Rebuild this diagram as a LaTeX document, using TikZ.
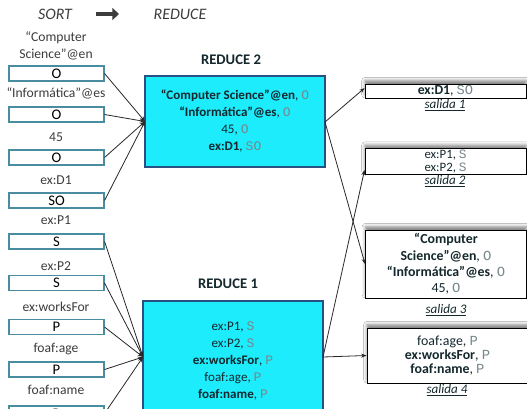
\documentclass[tikz,border=0pt]{standalone}
\usepackage{fontspec}
\setmainfont{Carlito}
\setmonofont{Liberation Mono}
\usetikzlibrary{arrows.meta,shadows.blur}
\definecolor{boxcyan}{RGB}{28,236,252}
\definecolor{cyanedge}{RGB}{40,80,130}
\definecolor{sortedge}{RGB}{74,140,160}
\definecolor{labelgray}{RGB}{60,60,60}
\definecolor{keygray}{RGB}{120,135,140}
\definecolor{wire}{RGB}{40,40,40}
\definecolor{txtdark}{RGB}{20,40,45}
\newcommand{\kw}[1]{\textcolor{keygray}{\texttt{#1}}}
\tikzset{
  sortbox/.style={draw=sortedge, line width=0.8pt, fill=white, minimum width=71.25pt,
    minimum height=11.25pt, inner sep=0pt, font=\fontsize{11}{12}\selectfont},
  sortlabel/.style={text=labelgray, inner sep=0pt, align=center,
    font=\fontsize{10.2}{12.8}\selectfont},
  reducebox/.style={draw=cyanedge, line width=0.8pt, fill=boxcyan, minimum width=135pt,
    inner sep=0pt, align=center, text=txtdark, font=\fontsize{9.8}{12.75}\selectfont},
  reducetitle/.style={inner sep=0pt, font=\bfseries\fontsize{11}{12}\selectfont, text=txtdark},
  outbox/.style={draw=black, line width=0.7pt, fill=white, minimum width=120.75pt,
    inner sep=0pt, align=center, text=txtdark,
    blur shadow={shadow xshift=0pt, shadow yshift=2.5pt, shadow blur radius=2.5pt, shadow opacity=50}},
  outlabel/.style={inner sep=0pt, text=txtdark, font=\fontsize{9.8}{11}\selectfont},
  link/.style={draw=wire, line width=0.6pt, -{Stealth[length=4pt,width=3pt]}},
  header/.style={inner sep=0pt, text=labelgray, font=\itshape\fontsize{12}{13}\selectfont}
}
\begin{document}
\begin{tikzpicture}[x=0.75pt, y=-0.75pt]
\clip (0,0) rectangle (527,408);
\fill[white] (0,0) rectangle (527,408);

% header
\node[header] (sort) at (55,14) {SORT};
\node[header] (red) at (180,14) {REDUCE};
\coordinate (ha) at (96,14);
\coordinate (hb) at (119,14);
\draw[labelgray, line width=3.6pt, -{Triangle[length=5pt,width=9pt]}] (ha) -- (hb);

% sorted keys with their values
\node[sortlabel] (l1) at (56,46) {“Computer\\Science”@en};
\node[sortbox] (b1) at (56.5,73.5) {O};
\node[sortlabel] (l2) at (56,93) {“Informática”@es};
\node[sortbox] (b2) at (56.5,114.5) {O};
\node[sortlabel] (l3) at (56,137) {45};
\node[sortbox] (b3) at (56.5,157.5) {O};
\node[sortlabel] (l4) at (56,180) {ex:D1};
\node[sortbox] (b4) at (56.5,200.5) {SO};
\node[sortlabel] (l5) at (56,220) {ex:P1};
\node[sortbox] (b5) at (56.5,241.5) {S};
\node[sortlabel] (l6) at (56,266) {ex:P2};
\node[sortbox] (b6) at (56.5,283) {S};
\node[sortlabel] (l7) at (56,307) {ex:worksFor};
\node[sortbox] (b7) at (56.5,327) {P};
\node[sortlabel] (l8) at (56,349) {foaf:age};
\node[sortbox] (b8) at (56.5,369.5) {P};
\node[sortlabel] (l9) at (56,390) {foaf:name};
\node[sortbox] (b9) at (56.5,413.5) {P};

% reducers
\node[reducetitle] (t2) at (231,60) {REDUCE 2};
\node[reducebox, minimum height=68.25pt] (r2) at (235,121.5)
  {\textbf{“Computer Science”@en}, \kw{O}\\
   \textbf{“Informática”@es}, \kw{O}\\
   45, \kw{O}\\
   \textbf{ex:D1}, \kw{SO}};
\node[reducetitle] (t1) at (228,284) {REDUCE 1};
\node[reducebox, minimum height=90pt] (r1) at (233,361)
  {ex:P1, \kw{S}\\
   ex:P2, \kw{S}\\
   \textbf{ex:worksFor}, \kw{P}\\
   foaf:age, \kw{P}\\
   \textbf{foaf:name}, \kw{P}};
\coordinate (in2) at (145,121.5);
\coordinate (in1) at (143,357);
\coordinate (out2) at (325,122);
\coordinate (out1) at (323,357);

% outputs
\node[outbox, minimum height=10.5pt, font=\fontsize{10.3}{12}\selectfont] (s1) at (445.5,91)
  {\textbf{ex:D1}, \kw{SO}};
\node[outlabel] (sl1) at (445,105) {\underline{\textit{salida 1}}};
\node[outbox, minimum height=19.5pt, font=\fontsize{9.6}{9.4}\selectfont] (s2) at (445.5,161.5)
  {ex:P1, \kw{S}\\ex:P2, \kw{S}};
\node[outlabel] (sl2) at (445,181) {\underline{\textit{salida 2}}};
\node[outbox, minimum height=51pt, font=\fontsize{10.4}{12.2}\selectfont] (s3) at (446,264)
  {\textbf{“Computer}\\\textbf{Science”@en}, \kw{O}\\
   \textbf{“Informática”@es}, \kw{O}\\45, \kw{O}};
\node[outlabel] (sl3) at (446,310) {\underline{\textit{salida 3}}};
\node[outbox, minimum height=41.25pt, font=\fontsize{10.4}{10.5}\selectfont] (s4) at (447.5,355.5)
  {foaf:age, \kw{P}\\\textbf{ex:worksFor}, \kw{P}\\\textbf{foaf:name}, \kw{P}};
\node[outlabel] (sl4) at (447,390) {\underline{\textit{salida 4}}};

% shuffle into the reducers
\foreach \b in {b1,b2,b3,b4} \draw[link] (\b.east) -- (in2);
\foreach \b in {b5,b6,b7,b8,b9} \draw[link] (\b.east) -- (in1);

% reducer outputs
\draw[link] (out2) -- ([yshift=2.2pt]s1.west);
\draw[link] (out2) -- (s3.west);
\draw[link] (out1) -- ([yshift=3.75pt]s2.south west);
\draw[link] (out1) -- (s4.west);
\end{tikzpicture}
\end{document}
